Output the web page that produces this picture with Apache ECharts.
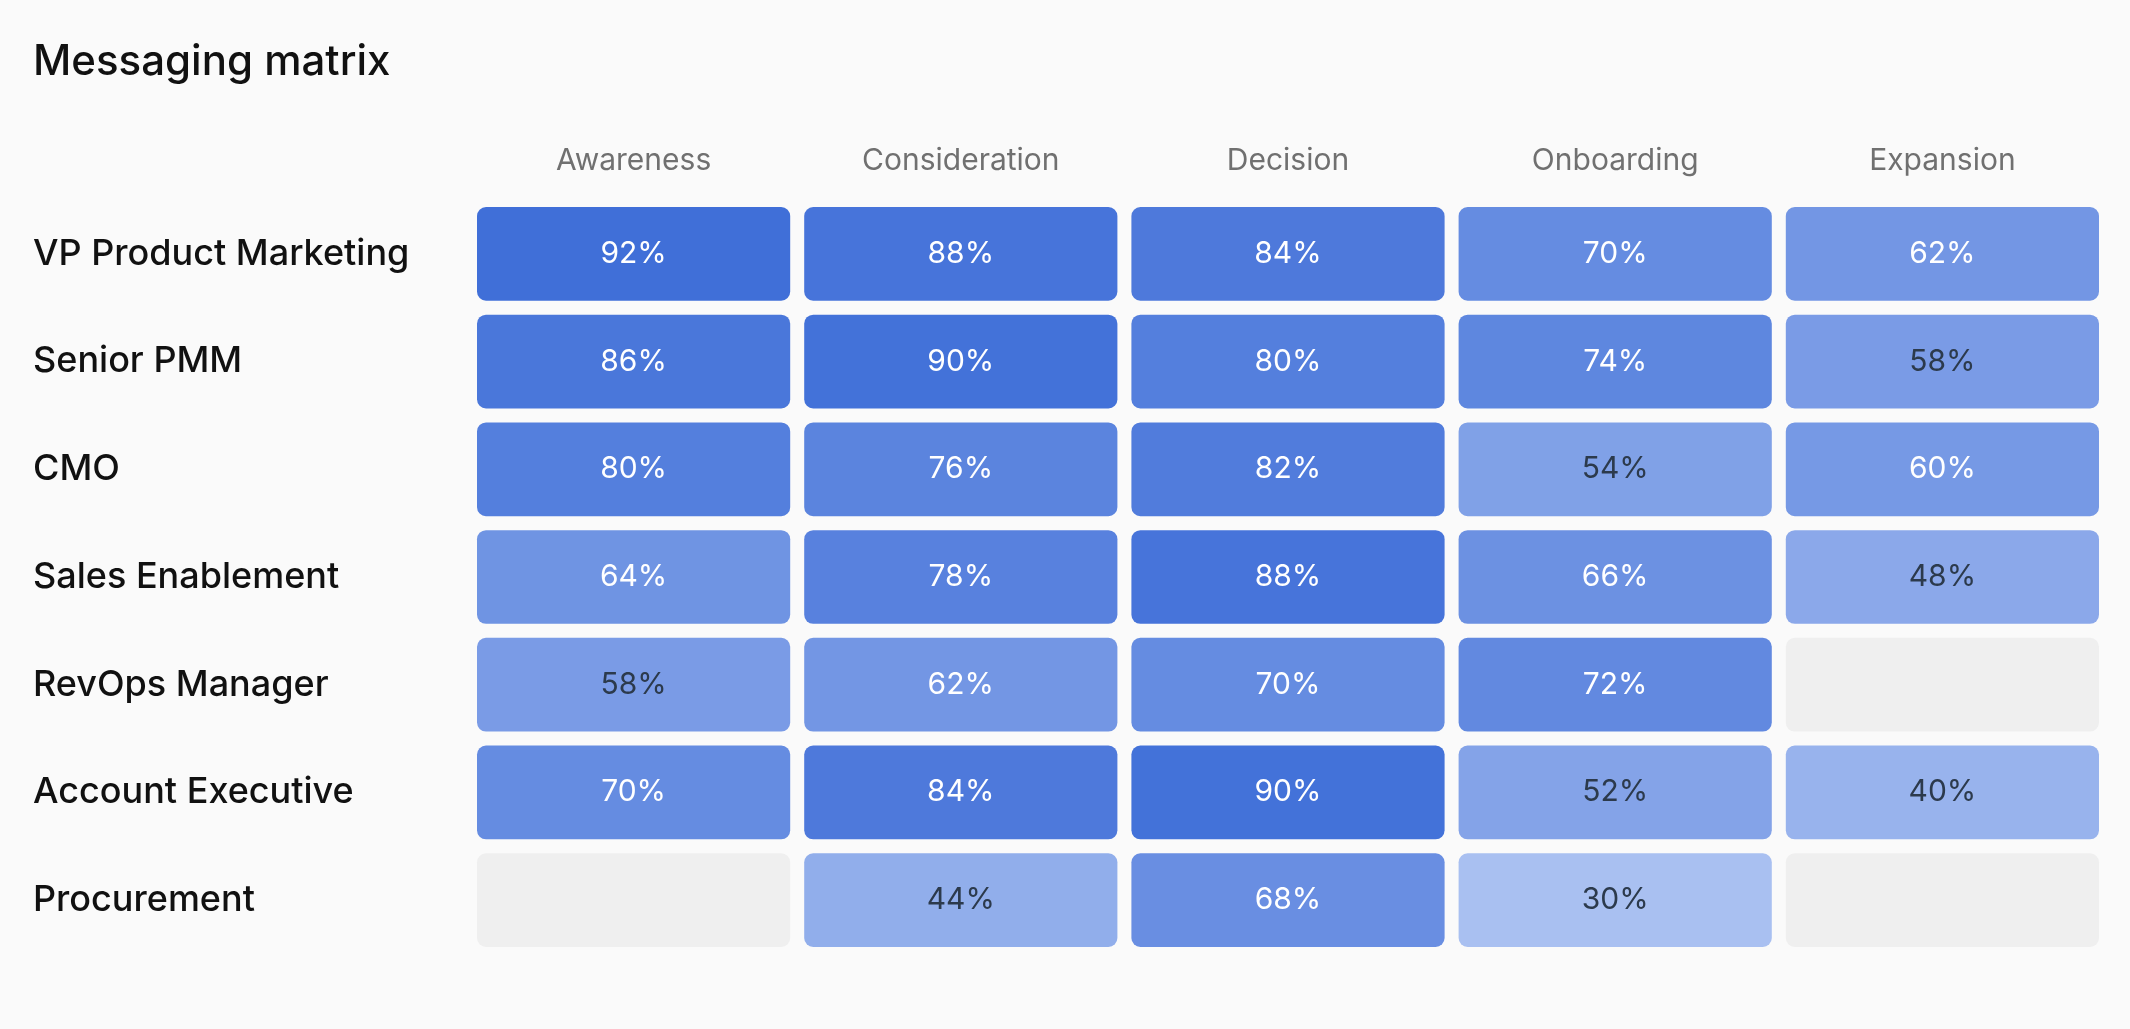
<!DOCTYPE html>
<html>
<head>
<meta charset="utf-8">
<title>Messaging matrix</title>
<script src="https://cdn.jsdelivr.net/npm/echarts@6/dist/echarts.min.js"></script>
<style>
  html, body { margin: 0; padding: 0; background: #fafafa; }
  #chart { width: 2130px; height: 1029px; }
</style>
</head>
<body>
<div id="chart"></div>
<script>
// funnel stages (columns)
const stages = ["Awareness", "Consideration", "Decision", "Onboarding", "Expansion"];
// personas (rows)
const personas = [
  "VP Product Marketing",
  "Senior PMM",
  "CMO",
  "Sales Enablement",
  "RevOps Manager",
  "Account Executive",
  "Procurement"
];
// message resonance per persona, in stage order (null = no data)
const vpProductMarketing = [92, 88, 84, 70, 62];
const seniorPmm = [86, 90, 80, 74, 58];
const cmo = [80, 76, 82, 54, 60];
const salesEnablement = [64, 78, 88, 66, 48];
const revOpsManager = [58, 62, 70, 72, null];
const accountExecutive = [70, 84, 90, 52, 40];
const procurement = [null, 44, 68, 30, null];

const rows = [vpProductMarketing, seniorPmm, cmo, salesEnablement, revOpsManager, accountExecutive, procurement];

// [stageIndex, personaIndex, value]
const cells = [];
rows.forEach((row, y) => {
  row.forEach((v, x) => {
    cells.push([x, y, v === null ? "-" : v]);
  });
});

const chart = echarts.init(document.getElementById("chart"));

const GAP = 14; // space between cells
const FONT = "Inter, 'Noto Sans', sans-serif";

function renderCell(params, api) {
  const v = api.value(2);
  const center = api.coord([api.value(0), api.value(1)]);
  const size = api.size([1, 1]);
  const w = size[0] - GAP;
  const h = size[1] - GAP;
  const empty = isNaN(v);
  const children = [
    {
      type: "rect",
      shape: { x: center[0] - w / 2, y: center[1] - h / 2, width: w, height: h, r: 9 },
      style: { fill: empty ? "#efefef" : api.visual("color") }
    }
  ];
  if (!empty) {
    children.push({
      type: "text",
      style: {
        text: v + "%",
        x: center[0],
        y: center[1],
        textAlign: "center",
        textVerticalAlign: "middle",
        fill: v >= 60 ? "#ffffff" : "#2c3a4c",
        font: "400 30px " + FONT
      }
    });
  }
  return { type: "group", children: children };
}

const option = {
  backgroundColor: "#fafafa",
  animation: false,
  title: {
    text: "Messaging matrix",
    left: 28,
    top: 36,
    textStyle: { fontFamily: FONT, fontSize: 42, fontWeight: 500, color: "#111111" }
  },
  grid: { left: 470, right: 24, top: 200, bottom: 75 },
  xAxis: {
    type: "category",
    position: "top",
    data: stages,
    axisLine: { show: false },
    axisTick: { show: false },
    splitLine: { show: false },
    axisLabel: { color: "#707070", fontFamily: FONT, fontSize: 30, margin: 24 }
  },
  yAxis: {
    type: "category",
    inverse: true,
    data: personas,
    axisLine: { show: false },
    axisTick: { show: false },
    splitLine: { show: false },
    axisLabel: { color: "#111111", fontFamily: FONT, fontSize: 36, fontWeight: 500, align: "left", margin: 437 }
  },
  visualMap: {
    show: false,
    dimension: 2,
    seriesIndex: 0,
    min: 30,
    max: 92,
    inRange: { color: ["#a9c0f1", "#406fd8"] }
  },
  series: [
    {
      type: "custom",
      renderItem: renderCell,
      encode: { x: 0, y: 1 },
      data: cells
    }
  ]
};

chart.setOption(option);
</script>
</body>
</html>
